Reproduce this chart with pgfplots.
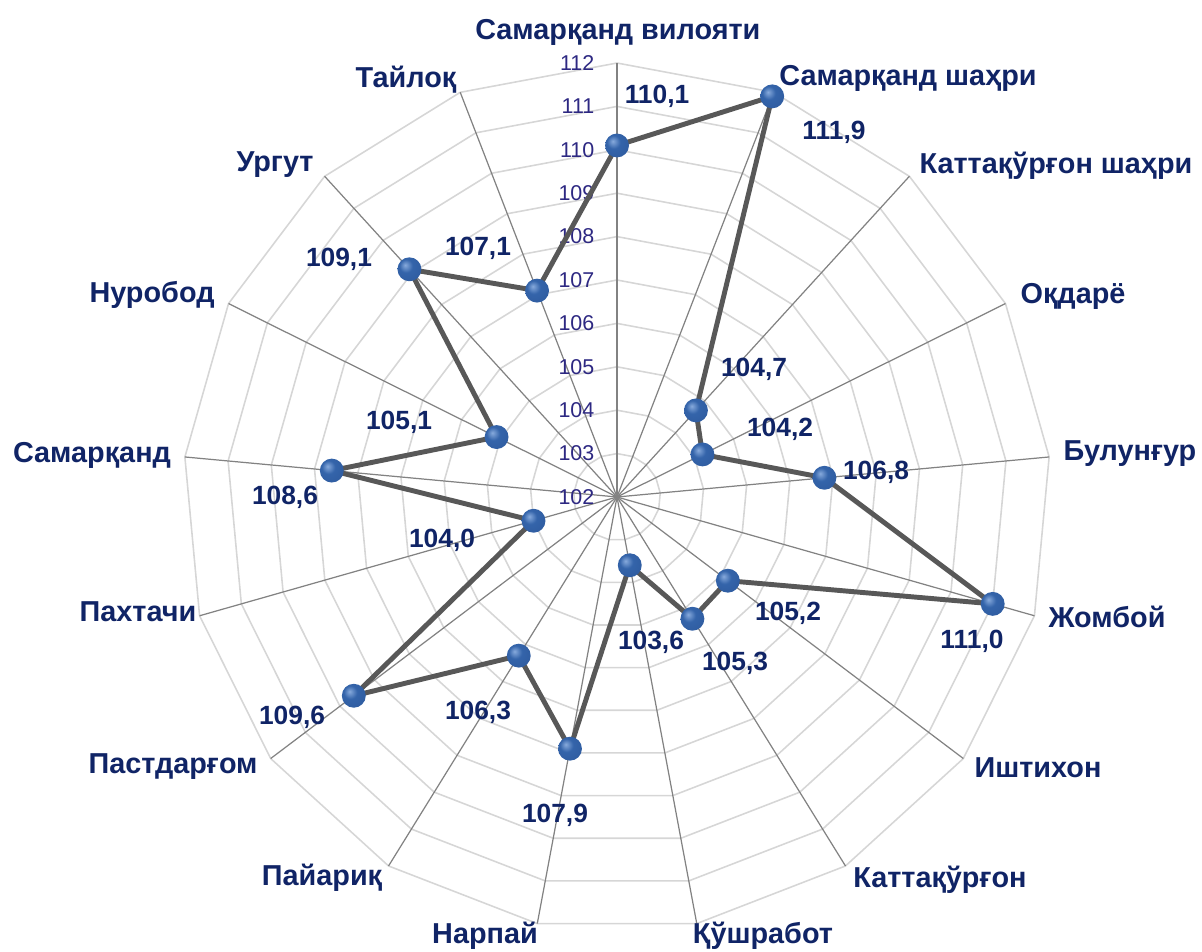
\documentclass[border=0pt]{standalone}
\usepackage{fontspec}
\setmainfont{Liberation Sans}
\usepackage{pgfplots}
\pgfplotsset{compat=1.18}
\usepackage{pgfplotstable}

\definecolor{labnavy}{RGB}{16,36,102}
\definecolor{ticknavy}{RGB}{45,40,130}
\definecolor{linegray}{RGB}{88,88,88}
\definecolor{spokegray}{RGB}{130,130,130}
\definecolor{gridgray}{RGB}{214,214,214}
\definecolor{ballhi}{RGB}{135,170,220}
\definecolor{ballmid}{RGB}{52,100,170}
\definecolor{balldark}{RGB}{28,60,120}

% soft blue ball marker
\pgfdeclareradialshading{blueball}{\pgfpoint{-9bp}{9bp}}{%
  color(0bp)=(ballhi); color(14bp)=(ballmid); color(34bp)=(ballmid!80!balldark);
  color(48bp)=(balldark); color(70bp)=(balldark)}
\pgfdeclareplotmark{blueball}{%
  \pgfpathcircle{\pgfpointorigin}{\pgfplotmarksize}%
  \pgfshadepath{blueball}{0}\pgfusepath{}}

\tikzset{
  cat/.style={font=\fontsize{8.2}{9.8}\selectfont\bfseries, text=labnavy, inner sep=0pt},
  val/.style={font=\fontsize{7.5}{9}\selectfont\bfseries, text=labnavy, inner sep=0pt},
  tck/.style={font=\fontsize{6.1}{7.3}\selectfont, text=ticknavy, inner sep=0pt, anchor=east},
}

% i = spoke index (clockwise from top), v = value
\pgfplotstableread{
i  v
0  110.1
1  111.9
2  104.7
3  104.2
4  106.8
5  111.0
6  105.2
7  105.3
8  103.6
9  107.9
10 106.3
11 109.6
12 104.0
13 108.6
14 105.1
15 109.1
16 107.1
17 110.1
}\datatable

\begin{document}
\begin{tikzpicture}
\begin{axis}[
  width=12.02cm, height=9.52cm, scale only axis,
  xmin=-14.217, xmax=13.479, ymin=-10.484, ymax=11.452,
  hide axis, clip=false,
]
\path (-14.217,-10.484) rectangle (13.479,11.452);

% web grid (102 ... 112)
\pgfplotsinvokeforeach{1,...,10}{
  \addplot[gridgray, line width=0.45pt, no marks]
    table[x expr={#1*cos(90-\thisrow{i}*360/17)},
          y expr={#1*sin(90-\thisrow{i}*360/17)}] {\datatable};
}
% spokes
\pgfplotsinvokeforeach{0,...,16}{
  \draw[spokegray, line width=0.35pt] (0,0) -- ({10*cos(90-#1*360/17)},{10*sin(90-#1*360/17)});
}

% radial tick labels
\pgfplotsinvokeforeach{0,...,10}{
  \node[tck] at (-0.507,#1) {\the\numexpr102+#1\relax};
}

% data
\addplot[linegray, line width=1.4pt, no marks, line join=round]
  table[x expr={(\thisrow{v}-102)*cos(90-\thisrow{i}*360/17)},
        y expr={(\thisrow{v}-102)*sin(90-\thisrow{i}*360/17)}] {\datatable};
\addplot[only marks, mark=blueball, mark size=3.4pt,
         skip coords between index={17}{18}]
  table[x expr={(\thisrow{v}-102)*cos(90-\thisrow{i}*360/17)},
        y expr={(\thisrow{v}-102)*sin(90-\thisrow{i}*360/17)}] {\datatable};

% category labels
\node[cat] at (0.02,10.71)    {Самарқанд вилояти};
\node[cat] at (6.705,9.654)   {Самарқанд шаҳри};
\node[cat] at (10.115,7.627)  {Каттақўрғон шаҳри};
\node[cat] at (10.507,4.631)  {Оқдарё};
\node[cat] at (11.82,0.99)    {Булунғур};
\node[cat] at (11.29,-2.765)  {Жомбой};
\node[cat] at (9.70,-6.244)   {Иштихон};
\node[cat] at (7.442,-8.825)  {Каттақўрғон};
\node[cat] at (3.364,-10.115) {Қўшработ};
\node[cat] at (-3.041,-10.115){Нарпай};
\node[cat] at (-6.797,-8.779) {Пайариқ};
\node[cat] at (-10.23,-6.221) {Пастдарғом};
\node[cat] at (-11.037,-2.65) {Пахтачи};
\node[cat] at (-12.097,0.968) {Самарқанд};
\node[cat] at (-10.714,4.654) {Нуробод};
\node[cat] at (-7.88,7.65)    {Ургут};
\node[cat] at (-4.862,9.608)  {Тайлоқ};

% value labels
\node[val] at (0.922,9.24)   {110,1};
\node[val] at (5.0,8.41)     {111,9};
\node[val] at (3.157,2.949)  {104,7};
\node[val] at (3.756,1.567)  {104,2};
\node[val] at (5.968,0.576)  {106,8};
\node[val] at (8.18,-3.318)  {111,0};
\node[val] at (3.94,-2.673)  {105,2};
\node[val] at (2.719,-3.825) {105,3};
\node[val] at (0.783,-3.341) {103,6};
\node[val] at (-1.429,-7.327){107,9};
\node[val] at (-3.203,-4.954){106,3};
\node[val] at (-7.488,-5.069){109,6};
\node[val] at (-4.032,-0.991){104,0};
\node[val] at (-7.65,0.0)    {108,6};
\node[val] at (-5.023,1.728) {105,1};
\node[val] at (-6.406,5.484) {109,1};
\node[val] at (-3.203,5.737) {107,1};
\end{axis}
\end{tikzpicture}
\end{document}
